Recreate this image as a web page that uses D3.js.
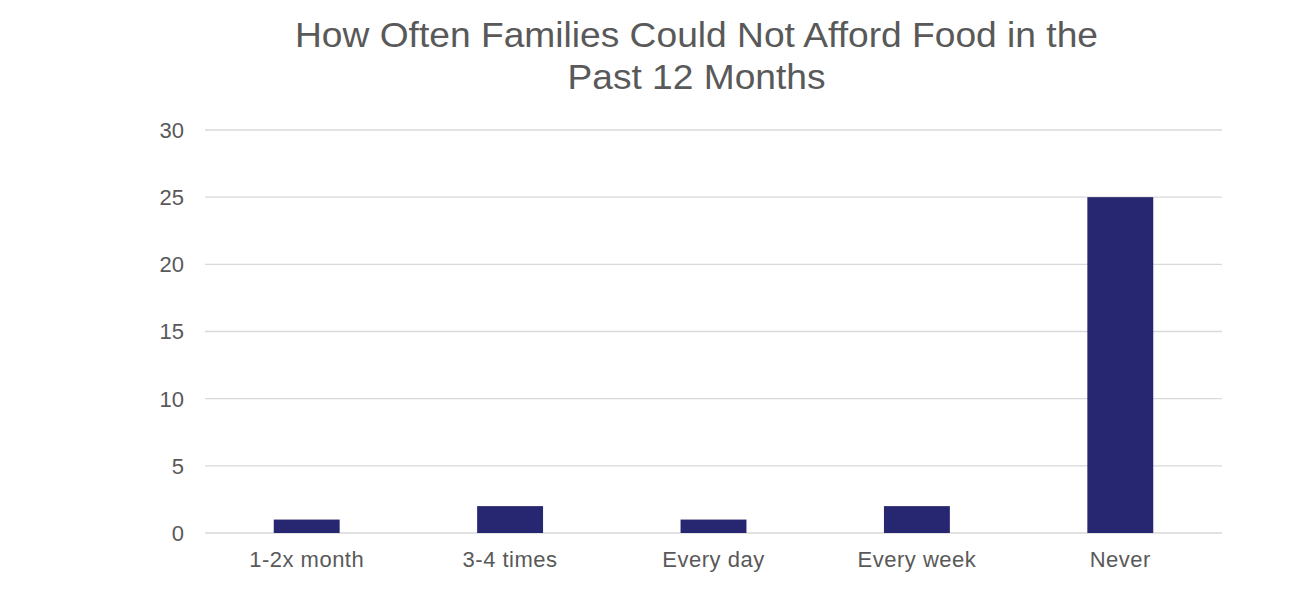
<!DOCTYPE html>
<html>
<head>
<meta charset="utf-8">
<script src="https://cdn.jsdelivr.net/npm/d3@7"></script>
<style>
  html, body { margin: 0; padding: 0; background: #fff; }
  svg { display: block; }
  text { font-family: "Liberation Sans", Arial, sans-serif; fill: #595959; }
</style>
</head>
<body>
<svg id="chart" width="1302" height="607"></svg>
<script>
const categories = ["1-2x month", "3-4 times", "Every day", "Every week", "Never"];
const values = [1, 2, 1, 2, 25];
const yTicks = [0, 5, 10, 15, 20, 25, 30];
const titleLines = ["How Often Families Could Not Afford Food in the", "Past 12 Months"];

const svg = d3.select("#chart");
const plotLeft = 205, plotRight = 1222, plotTop = 130, plotBottom = 533;

const x = d3.scaleBand().domain(categories).range([plotLeft, plotRight]).padding(0);
const y = d3.scaleLinear().domain([0, 30]).range([plotBottom, plotTop]);
const barW = x.bandwidth() * 0.324;

// gridlines
svg.append("g").selectAll("line").data(yTicks).join("line")
  .attr("x1", plotLeft).attr("x2", plotRight)
  .attr("y1", d => y(d)).attr("y2", d => y(d))
  .attr("stroke", "#d9d9d9").attr("stroke-width", 1.3);

// y tick labels
svg.append("g").selectAll("text").data(yTicks).join("text")
  .attr("x", 184).attr("y", d => y(d)).attr("dy", "0.36em")
  .attr("text-anchor", "end").attr("font-size", 22)
  .text(d => d);

// bars
svg.append("g").selectAll("rect").data(values).join("rect")
  .attr("x", (d, i) => x(categories[i]) + x.bandwidth() / 2 - barW / 2)
  .attr("width", barW)
  .attr("y", d => y(d))
  .attr("height", d => y(0) - y(d))
  .attr("fill", "#262671");

// x labels
svg.append("g").selectAll("text").data(categories).join("text")
  .attr("x", d => x(d) + x.bandwidth() / 2).attr("y", 567)
  .attr("text-anchor", "middle").attr("font-size", 22).attr("letter-spacing", 0.5)
  .text(d => d);

// title
const titleLens = [803, 258];
svg.append("g").selectAll("text").data(titleLines).join("text")
  .attr("x", 696.5).attr("y", (d, i) => 47 + i * 42)
  .attr("text-anchor", "middle").attr("font-size", 34.5)
  .attr("textLength", (d, i) => titleLens[i]).attr("lengthAdjust", "spacingAndGlyphs")
  .text(d => d);
</script>
</body>
</html>
